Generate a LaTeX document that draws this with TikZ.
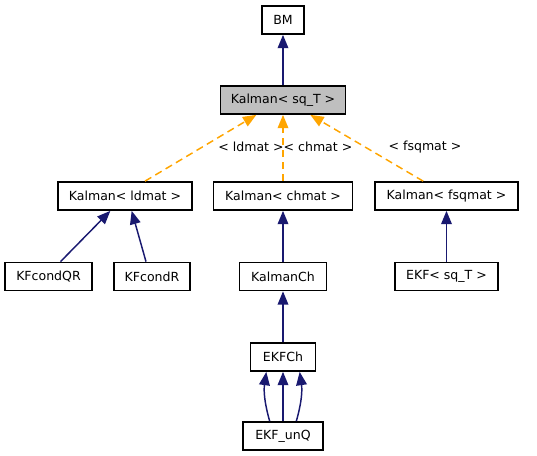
\documentclass[tikz,border=0pt]{standalone}
\usepackage{fontspec}
\setmainfont{DejaVu Sans}
\usetikzlibrary{positioning,arrows.meta}
\definecolor{edgeblue}{HTML}{191970}
\definecolor{edgeorange}{HTML}{FFA500}
\definecolor{boxgray}{HTML}{BFBFBF}
\tikzset{cls/.style={draw,line width=1.3pt,fill=white,inner sep=0pt,minimum height=21pt,font=\fontsize{9.4}{11}\selectfont},
  inh/.style={edgeblue,line width=1.1pt,-{Triangle[width=8pt,length=10pt]}},
  tmpl/.style={edgeorange,line width=1.1pt,dashed,dash pattern=on 5.5pt off 3.5pt,-{Triangle[width=8pt,length=10pt]}},
  lbl/.style={font=\fontsize{9.4}{11}\selectfont}}

\begin{document}
\begin{tikzpicture}[x=0.75pt,y=-0.75pt]
\useasboundingbox (0,0) rectangle (537,455);
% classes
\node[cls,minimum width=31.5pt] (bm) at (283,20) {BM};
\node[cls,fill=boxgray,minimum width=93.75pt] (kal) at (283,100) {Kalman< sq\_T >};
\node[cls,minimum width=100.5pt] (kld) at (125,196) {Kalman< ldmat >};
\node[cls,minimum width=104.25pt] (kch) at (283,196) {Kalman< chmat >};
\node[cls,minimum width=107.25pt] (kfs) at (446.5,196) {Kalman< fsqmat >};
\node[cls,minimum width=65.25pt] (kqr) at (48.5,276.5) {KFcondQR};
\node[cls,minimum width=57pt] (kr) at (152,276.5) {KFcondR};
\node[cls,minimum width=65.25pt] (kalch) at (283,276.5) {KalmanCh};
\node[cls,minimum width=77.25pt] (ekf) at (446.5,276.5) {EKF< sq\_T >};
\node[cls,minimum width=48.75pt] (ekfch) at (283,357) {EKFCh};
\node[cls,minimum width=60pt] (unq) at (283,436) {EKF\_unQ};
% edges
\draw[inh] (kal) -- (bm);
\draw[tmpl] ([xshift=15pt]kld.north) -- ([xshift=-20pt]kal.south);
\draw[tmpl] (kch) -- (kal);
\draw[tmpl] ([xshift=-17.5pt]kfs.north) -- ([xshift=20.5pt]kal.south);
\draw[inh] ([xshift=9pt]kqr.north) -- ([xshift=-11pt]kld.south);
\draw[inh] ([xshift=-4.5pt]kr.north) -- ([xshift=5pt]kld.south);
\draw[inh] (kalch) -- (kch);
\draw[inh] (ekf) -- (kfs);
\draw[inh] (ekfch) -- (kalch);
\draw[inh] ([xshift=-10pt]unq.north) to[bend left=12] ([xshift=-12.5pt]ekfch.south);
\draw[inh] (unq) -- (ekfch);
\draw[inh] ([xshift=10pt]unq.north) to[bend right=12] ([xshift=12.5pt]ekfch.south);
% labels
\node[lbl] (lld) at (251,147) {< ldmat >};
\node[lbl] (lch) at (318,147) {< chmat >};
\node[lbl] (lfs) at (425,147) {< fsqmat >};
\end{tikzpicture}
\end{document}
